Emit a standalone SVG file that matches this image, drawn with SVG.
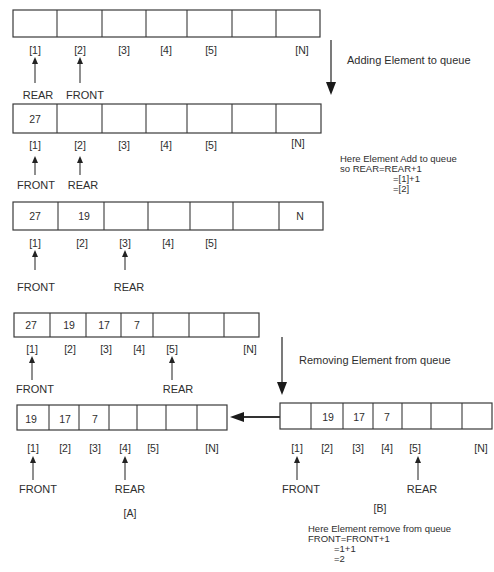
<svg xmlns="http://www.w3.org/2000/svg" width="494" height="572" viewBox="0 0 494 572">
<style>
.box{fill:#fff;stroke:#3a3a3a;stroke-width:1.2}
.div{stroke:#3a3a3a;stroke-width:1.1}
text{font-family:"Liberation Sans",Arial,sans-serif;fill:#2e2e2e}
.v{font-size:10.5px;text-anchor:middle}
.i{font-size:10.5px;text-anchor:middle}
.p{font-size:11px;text-anchor:middle}
.n{font-size:9.5px}
.ptr{stroke:#333;stroke-width:1.1;fill:none}
.head{fill:#222}
.big{stroke:#333;stroke-width:1.3;fill:none}
</style>
<rect width="494" height="572" fill="#fff"/>

<g id="array1">
<rect class="box" x="13" y="10" width="307" height="27"/>
<path class="div" d="M57,10V37M102,10V37M146,10V37M187,10V37M232,10V37M276,10V37"/>
<text class="i" x="35" y="54">[1]</text><text class="i" x="80" y="54">[2]</text><text class="i" x="124" y="54">[3]</text><text class="i" x="166" y="54">[4]</text><text class="i" x="211" y="54">[5]</text><text class="i" x="302" y="54">[N]</text>
</g>
<g id="ptr1">
<line class="ptr" x1="35" y1="83" x2="35" y2="62"/><path class="head" d="M32,64 L35,57 L38,64 Z"/>
<line class="ptr" x1="80" y1="83" x2="80" y2="62"/><path class="head" d="M77,64 L80,57 L83,64 Z"/>
<text class="p" x="38" y="99">REAR</text><text class="p" x="85" y="99">FRONT</text>
</g>

<g id="array2">
<rect class="box" x="13" y="104" width="308" height="29"/>
<path class="div" d="M57,104V133M102,104V133M146,104V133M187,104V133M232,104V133M276,104V133"/>
<text class="v" x="35" y="123">27</text>
<text class="i" x="35" y="149">[1]</text><text class="i" x="80" y="149">[2]</text><text class="i" x="124" y="149">[3]</text><text class="i" x="166" y="149">[4]</text><text class="i" x="211" y="149">[5]</text><text class="i" x="298" y="147">[N]</text>
</g>
<g id="ptr2">
<line class="ptr" x1="35" y1="175" x2="35" y2="161"/><path class="head" d="M32,163 L35,156 L38,163 Z"/>
<line class="ptr" x1="80" y1="175" x2="80" y2="161"/><path class="head" d="M77,163 L80,156 L83,163 Z"/>
<text class="p" x="36" y="189">FRONT</text><text class="p" x="83" y="189">REAR</text>
</g>
<g id="note1">
<text class="n" x="340" y="162">Here Element Add to queue</text>
<text class="n" x="340" y="172">so REAR=REAR+1</text>
<text class="n" x="393" y="182">=[1]+1</text>
<text class="n" x="393" y="192">=[2]</text>
</g>

<g id="array3">
<rect class="box" x="13" y="202" width="310" height="28"/>
<path class="div" d="M58,202V230M104,202V230M148,202V230M190,202V230M233,202V230M279,202V230"/>
<text class="v" x="35" y="220">27</text><text class="v" x="84" y="220">19</text><text class="v" x="300" y="220">N</text>
<text class="i" x="35" y="247">[1]</text><text class="i" x="82" y="247">[2]</text><text class="i" x="125" y="247">[3]</text><text class="i" x="168" y="247">[4]</text><text class="i" x="211" y="247">[5]</text>
</g>
<g id="ptr3">
<line class="ptr" x1="35" y1="270" x2="35" y2="255"/><path class="head" d="M32,257 L35,250 L38,257 Z"/>
<line class="ptr" x1="125" y1="270" x2="125" y2="255"/><path class="head" d="M122,257 L125,250 L128,257 Z"/>
<text class="p" x="36" y="291">FRONT</text><text class="p" x="129" y="291">REAR</text>
</g>

<g id="array4">
<rect class="box" x="14" y="313" width="245" height="24"/>
<path class="div" d="M50,313V337M86,313V337M121,313V337M153,313V337M189,313V337M224,313V337"/>
<text class="v" x="31" y="329">27</text><text class="v" x="69" y="329">19</text><text class="v" x="104" y="329">17</text><text class="v" x="137" y="329">7</text>
<text class="i" x="32" y="353">[1]</text><text class="i" x="70" y="353">[2]</text><text class="i" x="106" y="353">[3]</text><text class="i" x="139" y="353">[4]</text><text class="i" x="172" y="353">[5]</text><text class="i" x="250" y="353">[N]</text>
</g>
<g id="ptr4">
<line class="ptr" x1="32" y1="380" x2="32" y2="361"/><path class="head" d="M29,363 L32,356 L35,363 Z"/>
<line class="ptr" x1="172" y1="380" x2="172" y2="361"/><path class="head" d="M169,363 L172,356 L175,363 Z"/>
<text class="p" x="35" y="393">FRONT</text><text class="p" x="178" y="393">REAR</text>
</g>

<g id="arrayA">
<rect class="box" x="17" y="405" width="210" height="25"/>
<path class="div" d="M49,405V430M79,405V430M109,405V430M137,405V430M166,405V430M197,405V430"/>
<text class="v" x="31" y="423">19</text><text class="v" x="65" y="423">17</text><text class="v" x="95" y="423">7</text>
<text class="i" x="33" y="452">[1]</text><text class="i" x="65" y="452">[2]</text><text class="i" x="95" y="452">[3]</text><text class="i" x="125" y="452">[4]</text><text class="i" x="153" y="452">[5]</text><text class="i" x="212" y="452">[N]</text>
</g>
<g id="ptrA">
<line class="ptr" x1="33" y1="480" x2="33" y2="461"/><path class="head" d="M30,463 L33,456 L36,463 Z"/>
<line class="ptr" x1="125" y1="480" x2="125" y2="461"/><path class="head" d="M122,463 L125,456 L128,463 Z"/>
<text class="p" x="38" y="493">FRONT</text><text class="p" x="130" y="493">REAR</text>
<text class="i" x="130" y="517">[A]</text>
</g>

<g id="arrayB">
<rect class="box" x="280" y="403" width="212" height="26"/>
<path class="div" d="M311,403V429M343,403V429M373,403V429M402,403V429M431,403V429M462,403V429"/>
<text class="v" x="328" y="421">19</text><text class="v" x="359" y="421">17</text><text class="v" x="387" y="421">7</text>
<text class="i" x="297" y="452">[1]</text><text class="i" x="327" y="452">[2]</text><text class="i" x="358" y="452">[3]</text><text class="i" x="387" y="452">[4]</text><text class="i" x="415" y="452">[5]</text><text class="i" x="481" y="452">[N]</text>
</g>
<g id="ptrB">
<line class="ptr" x1="297" y1="480" x2="297" y2="461"/><path class="head" d="M294,463 L297,456 L300,463 Z"/>
<line class="ptr" x1="418" y1="480" x2="418" y2="461"/><path class="head" d="M415,463 L418,456 L421,463 Z"/>
<text class="p" x="301" y="493">FRONT</text><text class="p" x="422" y="493">REAR</text>
<text class="i" x="380" y="512">[B]</text>
</g>
<g id="note2">
<text class="n" x="308" y="532">Here Element remove from queue</text>
<text class="n" x="308" y="542">FRONT=FRONT+1</text>
<text class="n" x="334" y="552">=1+1</text>
<text class="n" x="334" y="562">=2</text>
</g>

<g id="connectors">
<line class="big" x1="331" y1="40" x2="331" y2="84"/>
<path d="M326,82 L336,82 L331,95 Z" fill="#1a1a1a"/>
<text x="347" y="64" style="font-size:11px">Adding Element to queue</text>
<line class="big" x1="282" y1="337" x2="282" y2="384"/>
<path d="M277,382 L287,382 L282,395 Z" fill="#1a1a1a"/>
<text x="299" y="364" style="font-size:11px">Removing Element from queue</text>
<line class="big" x1="280" y1="417" x2="242" y2="417" style="stroke-width:2"/>
<path d="M244,412 L244,422 L230,417 Z" fill="#1a1a1a"/>
</g>
</svg>
